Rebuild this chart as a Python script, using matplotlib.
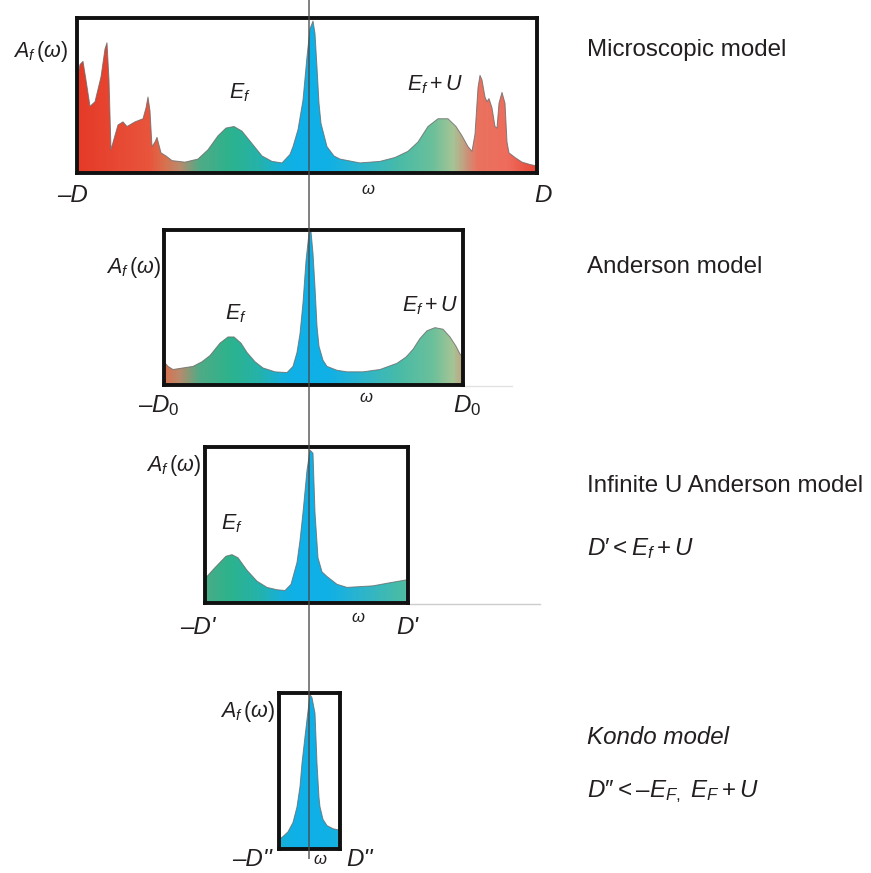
import numpy as np
import matplotlib
matplotlib.use('Agg')
import matplotlib.pyplot as plt
from matplotlib.colors import LinearSegmentedColormap, Normalize
from matplotlib.lines import Line2D

plt.rcParams['font.family'] = ['Liberation Sans', 'DejaVu Sans']
plt.rcParams['mathtext.fontset'] = 'custom'
plt.rcParams['mathtext.it'] = 'Liberation Sans:italic'
plt.rcParams['mathtext.rm'] = 'Liberation Sans'
plt.rcParams['mathtext.default'] = 'it'

# spectral function A_f(w), w in units of 100 px from the Fermi level, height in box units
w1 = [-2.32, -2.29, -2.26, -2.23, -2.19, -2.14, -2.08, -2.04, -2.02, -2.00, -1.98, -1.95,
      -1.91, -1.86, -1.82, -1.74, -1.66, -1.63, -1.61, -1.59, -1.57, -1.54, -1.52, -1.50,
      -1.48, -1.43, -1.37, -1.24, -1.11, -1.01, -0.91, -0.83, -0.75, -0.67, -0.57, -0.47,
      -0.37, -0.27, -0.19, -0.16, -0.11, -0.06, -0.02, 0.01, 0.04, 0.06, 0.08, 0.10, 0.12,
      0.18, 0.25, 0.31, 0.51, 0.71, 0.86, 0.99, 1.09, 1.19, 1.29, 1.39, 1.47, 1.53, 1.59,
      1.63, 1.66, 1.69, 1.71, 1.73, 1.76, 1.78, 1.80, 1.83, 1.86, 1.88, 1.90, 1.93, 1.96,
      1.98, 2.00, 2.06, 2.13, 2.21, 2.28]
a1 = [0.60, 0.70, 0.72, 0.60, 0.43, 0.46, 0.62, 0.80, 0.84, 0.60, 0.15, 0.22,
      0.31, 0.33, 0.30, 0.33, 0.35, 0.42, 0.49, 0.40, 0.17, 0.20, 0.23, 0.18,
      0.13, 0.11, 0.08, 0.07, 0.09, 0.15, 0.24, 0.29, 0.30, 0.27, 0.19, 0.11,
      0.075, 0.065, 0.12, 0.17, 0.28, 0.47, 0.75, 0.93, 0.98, 0.90, 0.68, 0.45, 0.32,
      0.17, 0.11, 0.09, 0.065, 0.075, 0.10, 0.14, 0.20, 0.30, 0.35, 0.35, 0.30, 0.24, 0.17,
      0.14, 0.25, 0.55, 0.63, 0.60, 0.49, 0.46, 0.48, 0.42, 0.30, 0.29, 0.45, 0.52, 0.45,
      0.20, 0.13, 0.10, 0.07, 0.055, 0.045]

w2 = [-1.45, -1.41, -1.36, -1.26, -1.16, -1.07, -0.99, -0.89, -0.81, -0.75, -0.68, -0.62,
      -0.54, -0.46, -0.34, -0.22, -0.16, -0.12, -0.09, -0.06, -0.03, 0.00, 0.02, 0.04,
      0.06, 0.08, 0.10, 0.14, 0.18, 0.28, 0.38, 0.54, 0.71, 0.88, 0.97, 1.04, 1.11, 1.18,
      1.26, 1.34, 1.41, 1.47, 1.51, 1.54]
a2 = [0.15, 0.12, 0.10, 0.11, 0.12, 0.15, 0.19, 0.27, 0.31, 0.31, 0.27, 0.21,
      0.15, 0.11, 0.085, 0.08, 0.12, 0.21, 0.33, 0.53, 0.80, 0.98, 0.99, 0.85,
      0.63, 0.38, 0.25, 0.16, 0.12, 0.095, 0.085, 0.085, 0.10, 0.14, 0.18, 0.23, 0.30, 0.35,
      0.37, 0.36, 0.31, 0.25, 0.20, 0.18]

w3 = [-1.04, -1.02, -0.95, -0.89, -0.83, -0.77, -0.71, -0.62, -0.52, -0.42, -0.32, -0.24,
      -0.18, -0.12, -0.09, -0.06, -0.02, 0.01, 0.04, 0.06, 0.09, 0.13, 0.18, 0.28, 0.38,
      0.51, 0.64, 0.81, 0.99]
a3 = [0.16, 0.17, 0.22, 0.26, 0.30, 0.31, 0.29, 0.21, 0.14, 0.10, 0.085, 0.08,
      0.12, 0.26, 0.40, 0.58, 0.85, 0.98, 0.96, 0.58, 0.29, 0.20, 0.17, 0.12, 0.10,
      0.105, 0.11, 0.13, 0.15]

w4 = [-0.30, -0.26, -0.21, -0.16, -0.12, -0.09, -0.07, -0.04, -0.02, 0.01, 0.03, 0.06,
      0.08, 0.10, 0.11, 0.14, 0.18, 0.24, 0.31]
a4 = [0.06, 0.08, 0.11, 0.17, 0.27, 0.40, 0.55, 0.72, 0.83, 0.99, 0.97, 0.87,
      0.55, 0.33, 0.27, 0.19, 0.15, 0.13, 0.12]

model_names = ['Microscopic model', 'Anderson model', 'Infinite U Anderson model', 'Kondo model']
conditions = [None, None, '$D\u2032 < E_f + U$', '$D\u2032\u2032 < \u2013E_{F,}\\ E_F + U$']
left_labels = ['\u2013D', '$\u2013D_0$', "\u2013D'", "\u2013D''"]
right_labels = ['D', '$D_0$', "D'", "D''"]

# colour along energy: red band edges, green Hubbard peaks, blue Kondo peak
stops = [(-2.32, '#e53a28'), (-1.60, '#e9553c'), (-1.45, '#d8714f'), (-1.30, '#b98a6c'),
         (-1.10, '#4fab86'), (-0.80, '#2db38c'), (-0.50, '#25b2aa'), (-0.28, '#16b0da'),
         (-0.15, '#0fb0e8'), (0.20, '#10b0e6'), (0.50, '#2ab4cf'), (0.90, '#48bba8'),
         (1.25, '#6cc09a'), (1.45, '#a6c496'), (1.58, '#c8977c'), (1.70, '#ea725f'),
         (2.00, '#ee6c5c'), (2.28, '#e84838')]
lo, hi = stops[0][0], stops[-1][0]
cmap = LinearSegmentedColormap.from_list('spec', [((p - lo) / (hi - lo), c) for p, c in stops])
norm = Normalize(lo, hi)

W, H = 871, 873
fig = plt.figure(figsize=(W / 100, H / 100), dpi=100)


def px(x, y):
    return x / W, 1 - y / H


# panel boxes in pixels: left, right, top, bottom
boxes = [(77, 537, 18, 173), (164, 463, 230, 385), (205, 408, 447, 603), (279, 340, 693, 849)]
curves = [(w1, a1), (w2, a2), (w3, a3), (w4, a4)]

axes = []
for (l, r, t, b), (w, a) in zip(boxes, curves):
    ax = fig.add_axes([l / W, 1 - b / H, (r - l) / W, (b - t) / H])
    x0, x1 = (l - 309) / 100, (r - 309) / 100
    grad = np.linspace(x0, x1, 500).reshape(1, -1)
    im = ax.imshow(grad, extent=[x0, x1, 0, 1], aspect='auto', cmap=cmap, norm=norm,
                   origin='lower', interpolation='bilinear', zorder=1)
    poly = ax.fill_between(w, a, 0, facecolor='none', edgecolor='none')
    im.set_clip_path(poly.get_paths()[0], transform=ax.transData)
    ax.plot(w, a, color='#6a6a6a', lw=0.7, alpha=0.8, zorder=2)
    ax.set_xlim(x0, x1)
    ax.set_ylim(0, 1)
    ax.set_xticks([])
    ax.set_yticks([])
    for s in ax.spines.values():
        s.set_linewidth(2.8)
        s.set_color('#111111')
    axes.append(ax)

# vertical line through the Fermi level
fig.add_artist(Line2D([309 / W, 309 / W], [1.0, 1 - 858 / H], color='#4a4a4a', lw=1.4,
                      alpha=0.7, zorder=10))
# faint baseline extensions
fig.add_artist(Line2D([463 / W, 512 / W], [1 - 386 / H] * 2, color='#e2e2e2', lw=1.0, zorder=0))
fig.add_artist(Line2D([408 / W, 540 / W], [1 - 604 / H] * 2, color='#cccccc', lw=1.0, zorder=0))

fs = 17.4
txt = dict(color='#231f20')

# A_f(w) labels
af_pos = [(68, 52), (161, 268), (201, 466), (275, 712)]
for x, y in af_pos:
    fig.text(*px(x, y), r'$A_f\,(\omega)$', fontsize=15.5, ha='right', va='center', **txt)

# band edge labels and omega
left_pos = [(73, 195), (159, 406), (198, 628), (252, 860)]
right_pos = [(543, 195), (467, 406), (407, 628), (360, 860)]
for i in range(4):
    fig.text(*px(*left_pos[i]), left_labels[i], fontsize=fs, style='italic', ha='center',
             va='center', **txt)
    fig.text(*px(*right_pos[i]), right_labels[i], fontsize=fs, style='italic', ha='center',
             va='center', **txt)
omega_pos = [(368, 190), (366, 398), (358, 617), (320, 859)]
for x, y in omega_pos:
    fig.text(*px(x, y), r'$\omega$', fontsize=12, ha='center', va='center', **txt)

# peak labels
axes[0].text(-0.69, 0.52, r'$E_f$', fontsize=15.5, ha='center', va='center', **txt)
axes[0].text(1.26, 0.57, r'$E_f+U$', fontsize=15.5, ha='center', va='center', **txt)
axes[1].text(-0.73, 0.46, r'$E_f$', fontsize=15.5, ha='center', va='center', **txt)
axes[1].text(1.21, 0.51, r'$E_f+U$', fontsize=15.5, ha='center', va='center', **txt)
axes[2].text(-0.77, 0.51, r'$E_f$', fontsize=15.5, ha='center', va='center', **txt)

# model descriptions
name_y = [56, 273, 492, 744]
for i, y in enumerate(name_y):
    fig.text(*px(587, y), model_names[i], fontsize=fs, ha='left', va='baseline',
             style='italic' if i == 3 else 'normal', **txt)
fig.text(*px(587, 555), conditions[2], fontsize=fs, ha='left', va='baseline', **txt)
fig.text(*px(587, 797), conditions[3], fontsize=fs, ha='left', va='baseline', **txt)

fig.savefig('out.png', dpi=100)
